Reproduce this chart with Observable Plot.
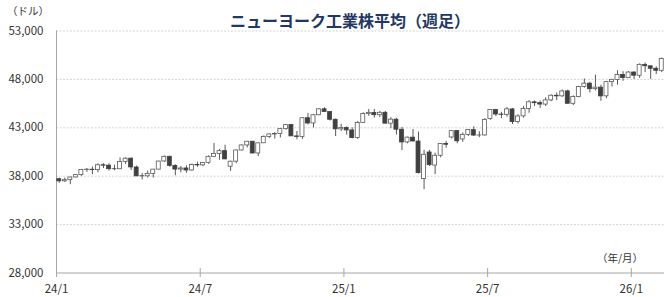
<!DOCTYPE html>
<html><head><meta charset="utf-8">
<script src="https://cdn.jsdelivr.net/npm/d3@7"></script>
<script src="https://cdn.jsdelivr.net/npm/@observablehq/plot@0.6"></script>
<style>
body{margin:0;background:#fff;}
#wrap{position:relative;width:670px;height:297px;font-family:"Noto Sans CJK JP",sans-serif;}
#wrap svg{position:absolute;left:0;top:0;}
.title{position:absolute;left:350px;top:10px;transform:translateX(-50%);font-size:16px;font-weight:bold;color:#1f3864;white-space:nowrap;line-height:20px;}
.unit{position:absolute;font-size:10.5px;color:#333;white-space:nowrap;line-height:12px;}
</style></head>
<body>
<div id="wrap"></div>
<script>
// Week ending dates (weekly candles)
const weeks = [
"2024-01-05","2024-01-12","2024-01-19","2024-01-26","2024-02-02","2024-02-09","2024-02-16","2024-02-23",
"2024-03-01","2024-03-08","2024-03-15","2024-03-22","2024-03-28","2024-04-05","2024-04-12","2024-04-19","2024-04-26",
"2024-05-03","2024-05-10","2024-05-17","2024-05-24","2024-05-31","2024-06-07","2024-06-14","2024-06-21","2024-06-28",
"2024-07-05","2024-07-12","2024-07-19","2024-07-26","2024-08-02","2024-08-09","2024-08-16","2024-08-23","2024-08-30",
"2024-09-06","2024-09-13","2024-09-20","2024-09-27","2024-10-04","2024-10-11","2024-10-18","2024-10-25",
"2024-11-01","2024-11-08","2024-11-15","2024-11-22","2024-11-29","2024-12-06","2024-12-13","2024-12-20","2024-12-27",
"2025-01-03","2025-01-10","2025-01-17","2025-01-24","2025-01-31","2025-02-07","2025-02-14","2025-02-21","2025-02-28",
"2025-03-07","2025-03-14","2025-03-21","2025-03-28","2025-04-04","2025-04-11","2025-04-17","2025-04-25",
"2025-05-02","2025-05-09","2025-05-16","2025-05-23","2025-05-30","2025-06-06","2025-06-13","2025-06-20","2025-06-27",
"2025-07-03","2025-07-11","2025-07-18","2025-07-25","2025-08-01","2025-08-08","2025-08-15","2025-08-22","2025-08-29",
"2025-09-05","2025-09-12","2025-09-19","2025-09-26","2025-10-03","2025-10-10","2025-10-17","2025-10-24","2025-10-31",
"2025-11-07","2025-11-14","2025-11-21","2025-11-28","2025-12-05","2025-12-12","2025-12-19","2025-12-26",
"2026-01-02","2026-01-09","2026-01-16","2026-01-23","2026-01-30","2026-02-06"
];
const open = [
37690,37470,37590,37870,38110,38650,38670,38630,39130,39090,
38720,38720,39480,39810,38900,37990,37990,38240,38680,39520,
40000,39070,38690,38800,38590,39150,39120,39380,40000,40290,
40590,38980,39500,40660,41180,41560,40350,41400,42060,42310,
42350,42860,43280,42110,42050,43990,43450,44300,44910,44640,
43830,42840,42990,42730,41940,43490,44420,44540,44300,44550,
43430,43840,42800,41490,41980,41580,37700,40450,39100,40110,
41320,42000,42660,41800,42270,42760,42200,42210,43900,44830,
44370,44340,44900,43590,44180,44950,45630,45550,45400,45830,
46310,46250,46760,45480,46190,47210,47560,46990,47150,46250,
47720,47950,48460,48130,48710,48380,49500,49350,49100,48890
];
const high = [
37790,37800,37900,38180,38700,38800,38950,39280,39290,39280,
39140,39890,39900,39890,39050,38280,38510,38700,39540,40080,
40080,39180,39000,39070,39250,39450,39430,40100,41380,40770,
41200,39550,40700,41240,41590,41590,41430,42160,42390,42510,
42900,43330,43330,42620,44000,44490,44380,44980,45070,44650,
43900,43370,43100,43000,43650,44550,44900,44900,44700,44700,
44050,43970,43050,42040,42830,42560,40670,40680,40380,41320,
41600,42700,42700,42470,42800,43110,42600,43950,44890,44900,
44600,45100,45000,44350,45200,45800,45770,45770,46100,46400,
46600,46900,46900,46300,47300,48040,47700,48430,47400,47800,
48000,48890,48800,48800,48800,49600,49700,49400,49300,50200
];
const low = [
37270,37350,37120,37800,37990,38400,38150,38360,38790,38520,
38560,38700,39210,38600,37960,37610,37820,37810,38660,39420,
38920,38040,38340,38300,38520,38920,38980,39230,39950,39650,
39700,38500,39300,40610,40920,40310,40020,41380,41910,41830,
41950,42750,42100,41760,41800,43300,42990,44250,44600,43700,
42100,42620,42230,41840,41800,43470,44180,44000,44060,43400,
42900,42250,40660,41350,41570,38230,36610,39000,38170,39900,
40900,41850,41350,41500,42100,42100,41990,42150,43780,44150,
43950,44100,43340,43400,44000,44500,45200,45000,45200,45700,
45800,46150,45450,45300,46100,47100,46600,46800,45730,46000,
47200,47400,47800,48100,48000,48100,48700,48000,48500,48700
];
const close = [
37466,37593,37863,38109,38654,38671,38628,39131,39087,38723,
38715,39476,39807,38904,37983,37986,38240,38676,39513,40004,
39070,38686,38799,38589,39150,39119,39376,40001,40288,40589,
39737,39497,40660,41175,41563,40345,41394,42063,42313,42352,
42864,43276,42114,42052,43989,43445,44297,44910,44643,43828,
42840,42992,42732,41938,43488,44424,44545,44303,44546,43428,
43841,42802,41488,41985,41583,38315,40213,39142,40114,41317,
41249,42655,41603,42270,42763,42198,42207,43819,44829,44371,
44342,44902,43589,44176,44946,45632,45545,45401,45834,46315,
46247,46758,45480,46191,47207,47563,46987,47147,46245,47716,
47955,48458,48135,48711,48382,49504,49359,49098,48892,50115
];
const yTicks = [28000, 33000, 38000, 43000, 48000, 53000];
const xTickWeeks = ["2024-01-05","2024-07-05","2025-01-03","2025-07-03","2026-01-02"];
const xTickLabels = ["24/1","24/7","25/1","25/7","26/1"];
const titleText = "ニューヨーク工業株平均（週足）";
const yUnit = "（ドル）";
const xUnit = "（年/月）";

const candles = weeks.map((w, i) => ({i, week: w, open: open[i], high: high[i], low: low[i], close: close[i]}));
const ups = candles.filter(d => d.close >= d.open);
const downs = candles.filter(d => d.close < d.open);
const tickIdx = xTickWeeks.map(w => weeks.indexOf(w));

const chart = Plot.plot({
  width: 670, height: 297,
  marginLeft: 56, marginRight: 6, marginTop: 30.5, marginBottom: 24.5,
  style: {fontFamily: "'Noto Sans CJK JP', sans-serif", fontSize: "11.5px", color: "#333", background: "transparent"},
  x: {domain: [0, weeks.length]},
  y: {domain: [yTicks[0], yTicks[yTicks.length - 1]]},
  marks: [
    Plot.gridY(yTicks.slice(1), {stroke: "#d4d4d4", strokeOpacity: 1, strokeDasharray: "2,1.5"}),
    Plot.ruleX([0], {stroke: "#a6a6a6"}),
    Plot.ruleY([yTicks[0]], {stroke: "#a6a6a6"}),
    Plot.axisY(yTicks, {tickSize: 0, tickPadding: 13, tickFormat: d3.format(",")}),
    Plot.axisX(tickIdx, {tickSize: 9, dy: -4.5, tickPadding: 7.5, stroke: "#a6a6a6",
      tickFormat: d => xTickLabels[tickIdx.indexOf(d)]}),
    Plot.ruleX(candles, {x: d => d.i + 0.5, y1: "low", y2: "high", stroke: "#595959", strokeWidth: 1}),
    Plot.rect(ups, {x1: d => d.i + 0.14, x2: d => d.i + 0.86, y1: "open", y2: "close", fill: "#ffffff", stroke: "#595959", strokeWidth: 0.8}),
    Plot.rect(downs, {x1: d => d.i + 0.14, x2: d => d.i + 0.86, y1: "open", y2: "close", fill: "#404040", stroke: "#404040", strokeWidth: 0.8})
  ]
});
const wrap = document.getElementById("wrap");
wrap.appendChild(chart);
const t = document.createElement("div"); t.className = "title"; t.textContent = titleText; wrap.appendChild(t);
const u1 = document.createElement("div"); u1.className = "unit"; u1.style.left = "7px"; u1.style.top = "5px"; u1.textContent = yUnit; wrap.appendChild(u1);
const u2 = document.createElement("div"); u2.className = "unit"; u2.style.left = "597px"; u2.style.top = "252px"; u2.textContent = xUnit; wrap.appendChild(u2);
</script>
</body></html>
